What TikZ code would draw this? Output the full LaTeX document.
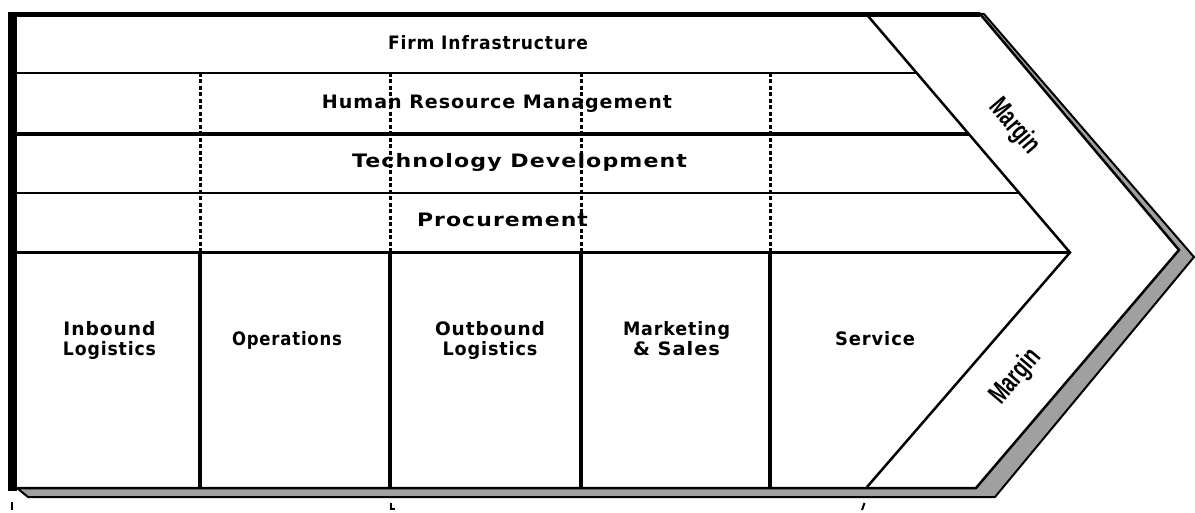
\documentclass[tikz,border=0pt]{standalone}
\usepackage{fontspec}
\usepackage{graphicx}
\newfontfamily\lblfont[LetterSpace=5]{DejaVu Sans}
\newfontfamily\mrgfont{Liberation Sans}
% stretch a label horizontally to a given width, keeping its height
\newcommand\fitw[2]{\resizebox{#1pt}{\height}{#2}}

\definecolor{shade}{RGB}{160,160,160}

\begin{document}
\begin{tikzpicture}[x=1pt,y=-1pt,
  lbl/.style={inner sep=0pt, font=\lblfont\bfseries\fontsize{18.5}{20}\selectfont, align=center},
  mrg/.style={inner sep=0pt, font=\mrgfont\bfseries\fontsize{28}{29}\selectfont},
  rowline/.style={line width=2.5pt},
  rowlinebold/.style={line width=3.2pt},
  divider/.style={line width=3pt, dash pattern=on 4pt off 2.5pt},
  colline/.style={line width=3.4pt},
  outline/.style={line width=2.5pt, line join=miter}]

\useasboundingbox (0,0) rectangle (1195,513);

% extruded back face of the chevron
\filldraw[fill=shade, line width=2pt, line join=miter]
  (17,14) -- (984,14) -- (1194,257) -- (995,497)
  -- (28,497) -- (17,488) -- cycle;

% front face of the chevron
\filldraw[fill=white, outline] (12,14) -- (980,14) -- (1179,250) -- (976,488)
  -- (12,488) -- cycle;

% heavy top and left edges
\fill (8,12) rectangle (980,17.5);
\fill (8,12) rectangle (17,491);

% margin band: inner chevron
\coordinate (mtop) at (868,16);
\coordinate (mtip) at (1070,252.5);
\coordinate (mbot) at (867,487);
\draw[outline] (mtop) -- (mtip) -- (mbot);

% support activity rows
\draw[rowline]     (17,73)    -- (916.8,73);
\draw[rowlinebold] (17,134)   -- (969,134);
\draw[rowline]     (17,193)   -- (1019.5,193);
\draw[rowlinebold] (17,252.5) -- (mtip);

% dotted dividers across the support rows, solid ones between primary activities
\foreach \x in {200,390,581,770} {
  \draw[divider] (\x,73) -- (\x,252.5);
  \draw[colline] (\x,252.5) -- (\x,488);
}

% support activity labels
\node[lbl, anchor=base] (firm) at (488,50)    {\fitw{200}{Firm Infrastructure}};
\node[lbl, anchor=base] (hrm)  at (497,109)   {\fitw{350}{Human Resource Management}};
\node[lbl, anchor=base] (tech) at (519.5,168) {\fitw{335}{Technology Development}};
\node[lbl, anchor=base] (proc) at (502.5,227) {\fitw{171}{Procurement}};

% primary activity labels
\node[lbl] (inb)  at (109.5,340.5) {\fitw{92}{Inbound}\\\fitw{93}{Logistics}};
\node[lbl, anchor=base] (ops) at (287,345) {\fitw{110}{Operations}};
\node[lbl] (outb) at (490,340.5)   {\fitw{110}{Outbound}\\\fitw{95}{Logistics}};
\node[lbl] (mkt)  at (676.5,338.7) {\fitw{107}{Marketing}\\\fitw{87}{\& Sales}};
\node[lbl, anchor=base] (svc) at (875,345) {\fitw{80}{Service}};

% margin labels along the chevron band
\node[mrg, rotate=-49.5, xscale=0.68] (mupper) at (1014,127) {Margin};
\node[mrg, rotate=49.5, xscale=0.68]  (mlower) at (1016,377) {Margin};

% small marks below the frame
\draw[line width=2pt] (12,502) -- (12,510);
\draw[line width=2pt] (391,503) -- (391,509) -- (394.5,509);
\draw[line width=2pt] (864.5,503) -- (862,510);

\end{tikzpicture}
\end{document}
